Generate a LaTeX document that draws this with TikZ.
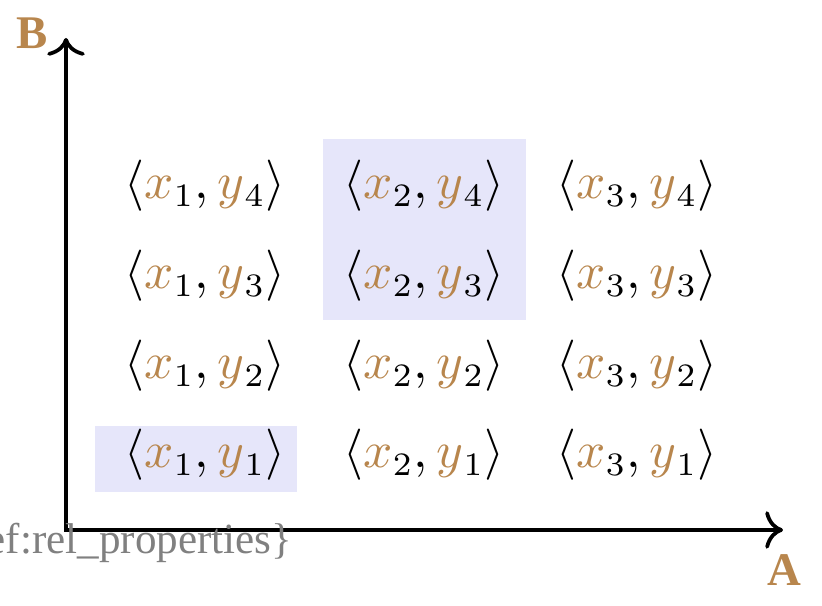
\documentclass[tikz,border=0pt]{standalone}
\usepackage{fontspec}
\setmainfont{Liberation Serif}
\usepackage{amsmath}
\usetikzlibrary{arrows.meta}

\definecolor{tan}{HTML}{B8864D}
\definecolor{hlblue}{HTML}{E6E6FA}

\newcommand{\pairxy}[2]{$\langle\textcolor{tan}{x}_{#1},\textcolor{tan}{y}_{#2}\rangle$}

\begin{document}
\begin{tikzpicture}[x=0.0075cm,y=-0.0075cm]
    \tikzset{axis/.style = {thick,{To[length=3.8pt,width=8pt]}-{To[length=3.8pt,width=8pt]}}}
    \tikzset{pair/.style = {shape=rectangle,draw=none,inner sep=0pt,font=\fontsize{10.5}{12}\selectfont}}
    \tikzset{hl/.style = {fill=hlblue,draw=none}}
    \tikzset{axlabel/.style = {text=tan,font=\bfseries}}

    \useasboundingbox (0,0) rectangle (822,606);
    \clip (0,0) rectangle (822,606);

    % highlighted cells
    \fill[hl] (95,426) rectangle (297,492);
    \fill[hl] (323,139) rectangle (526,320);

    % axes
    \coordinate (o) at (66,530);
    \coordinate (btop) at (66,38);
    \coordinate (aend) at (783,530);
    \draw[axis] (btop) -- (o) -- (aend);

    \node[axlabel] (b) at (32,33) {B};
    \node[axlabel] (a) at (784,570) {A};

    % pairs
    \foreach \i/\x in {1/205,2/424,3/637}{
      \foreach \j/\y in {1/455,2/366,3/276,4/186}{
        \node[pair] (p\i\j) at (\x,\y) {\pairxy{\i}{\j}};
      }
    }

    \node[text=gray,anchor=base east,inner sep=0pt,font=\fontsize{9.2}{11}\selectfont] (ref) at (293,554) {\textbackslash ref\{def:rel\_properties\}};
\end{tikzpicture}
\end{document}
